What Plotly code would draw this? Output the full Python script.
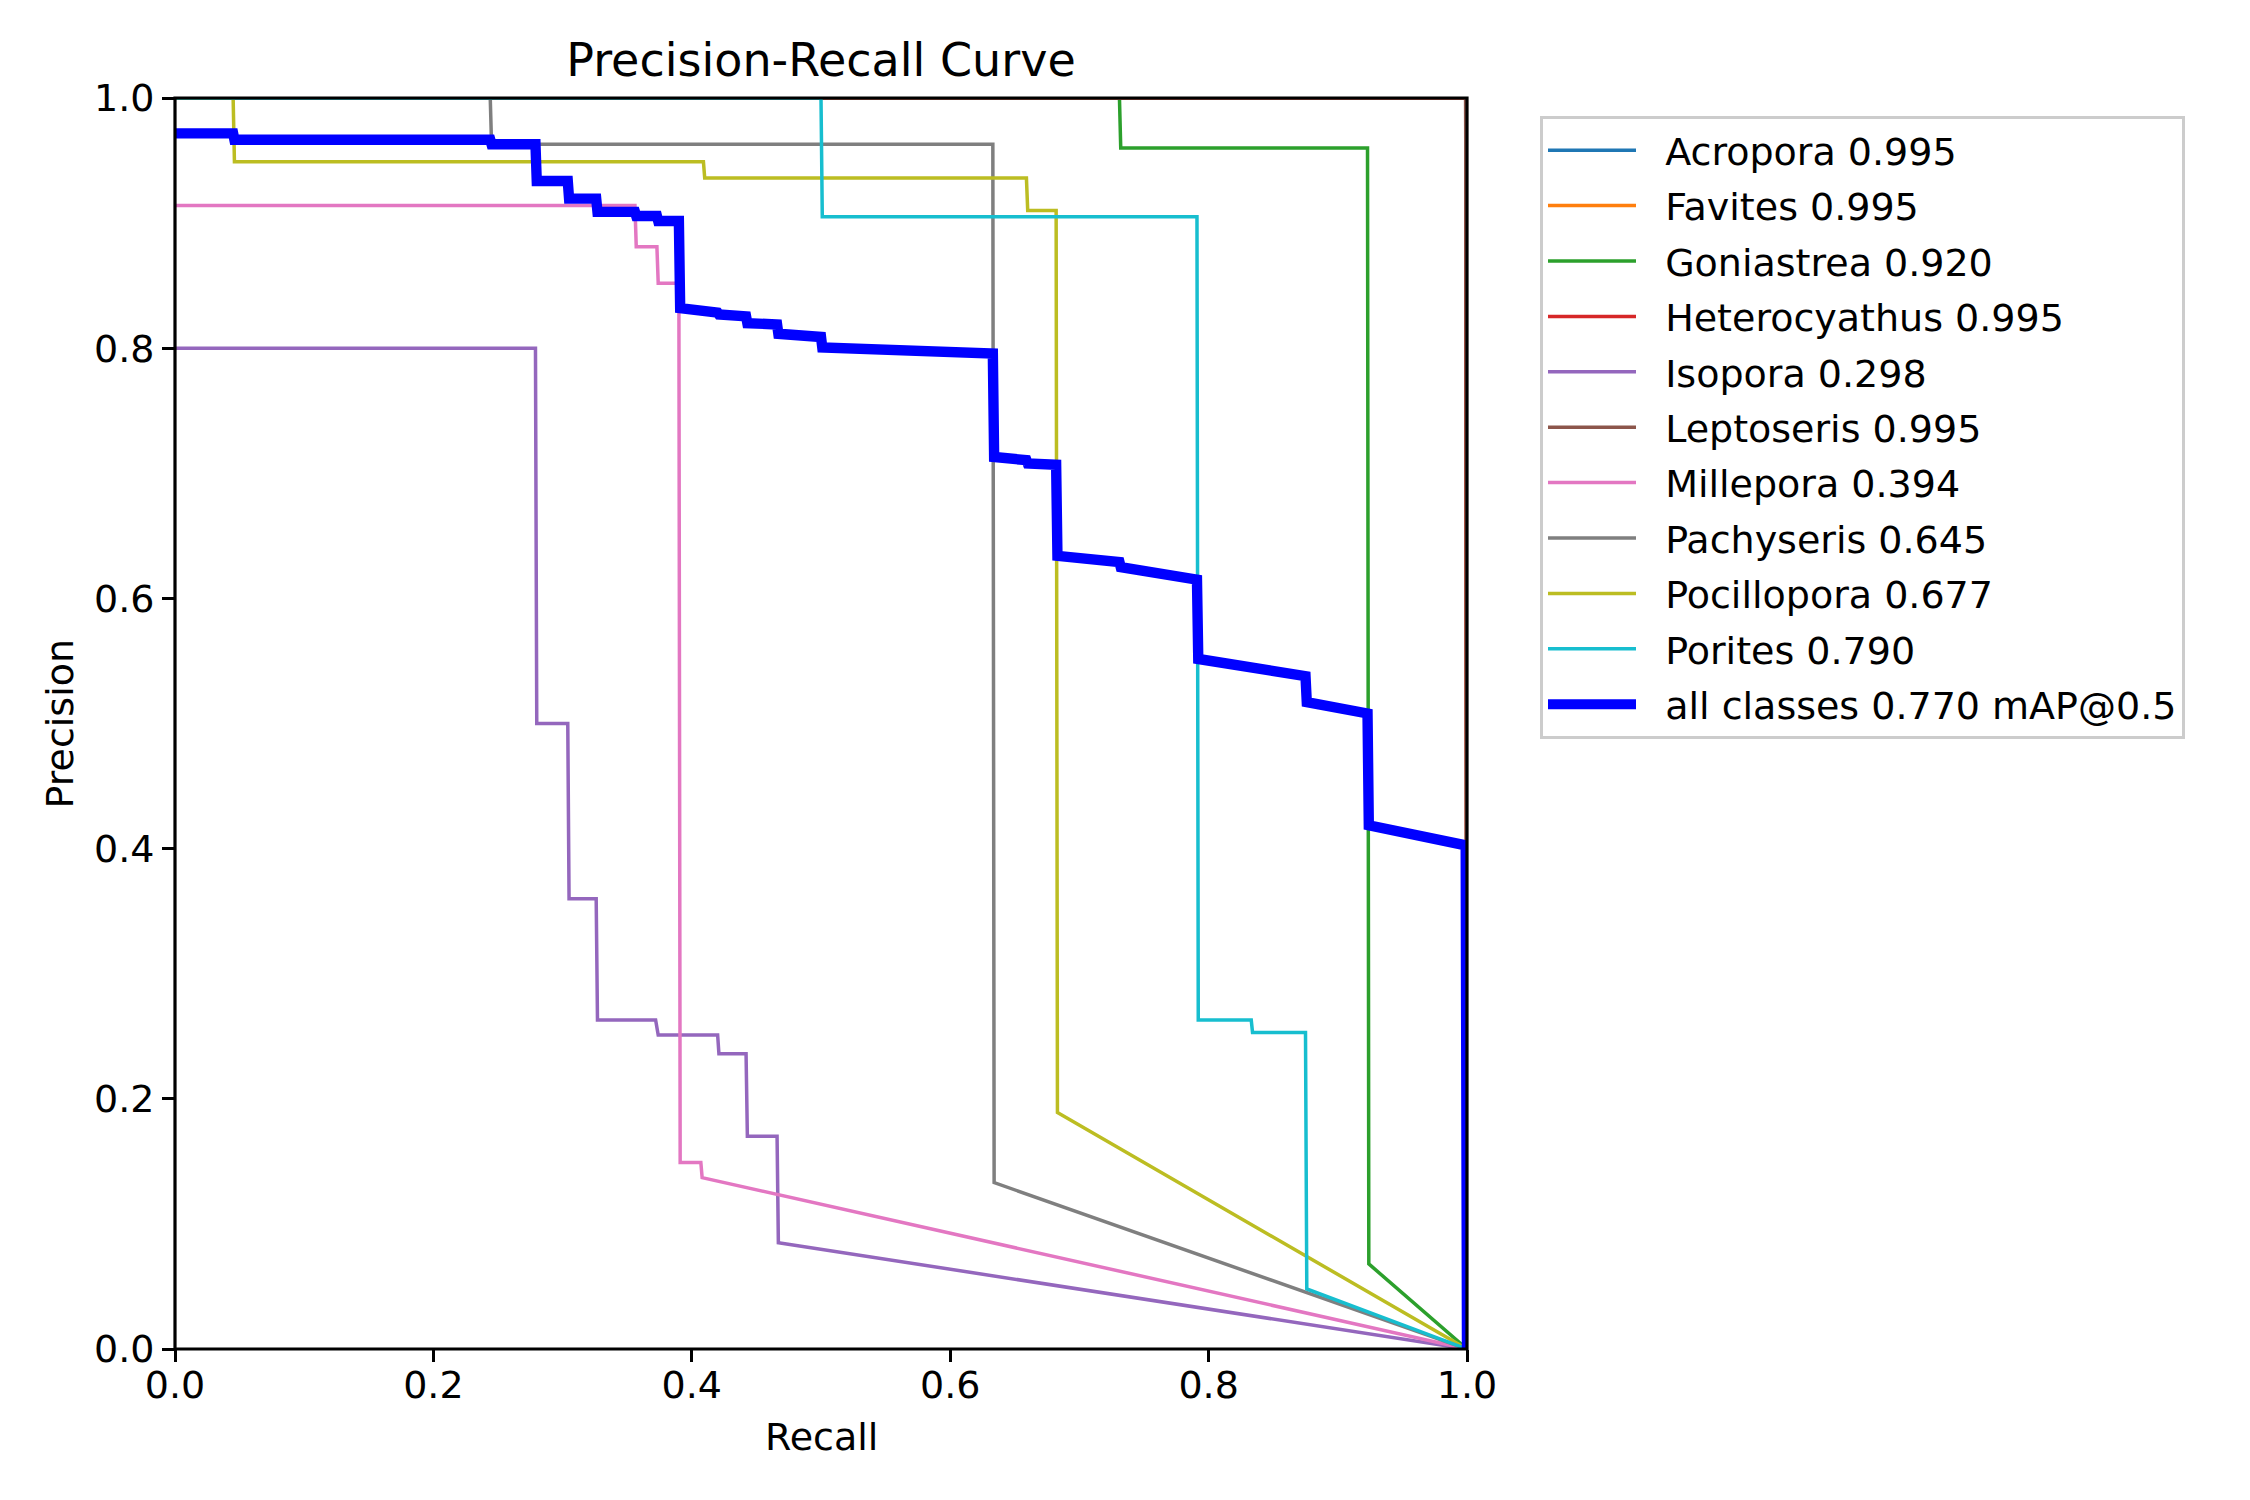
import plotly.graph_objects as go

# ---- data ----
class_names = ["Acropora", "Favites", "Goniastrea", "Heterocyathus", "Isopora",
               "Leptoseris", "Millepora", "Pachyseris", "Pocillopora", "Porites"]
class_ap = [0.995, 0.995, 0.920, 0.995, 0.298, 0.995, 0.394, 0.645, 0.677, 0.790]
class_colors = ["#1f77b4", "#ff7f0e", "#2ca02c", "#d62728", "#9467bd",
                "#8c564b", "#e377c2", "#7f7f7f", "#bcbd22", "#17becf"]

acropora_recall = [0.0, 0.999, 1.0]
acropora_prec = [1.0, 1.0, 0.0]
favites_recall = [0.0, 0.999, 1.0]
favites_prec = [1.0, 1.0, 0.0]
goniastrea_recall = [0.0, 0.731, 0.732, 0.923, 0.924, 1.0]
goniastrea_prec = [1.0, 1.0, 0.960, 0.960, 0.068, 0.0]
heterocyathus_recall = [0.0, 0.999, 1.0]
heterocyathus_prec = [1.0, 1.0, 0.0]
isopora_recall = [0.0, 0.279, 0.280, 0.304, 0.305, 0.326, 0.327, 0.372, 0.374,
                  0.420, 0.421, 0.442, 0.443, 0.466, 0.467, 1.0]
isopora_prec = [0.800, 0.800, 0.500, 0.500, 0.360, 0.360, 0.263, 0.263, 0.251,
                0.251, 0.236, 0.236, 0.170, 0.170, 0.085, 0.0]
leptoseris_recall = [0.0, 0.999, 1.0]
leptoseris_prec = [1.0, 1.0, 0.0]
millepora_recall = [0.0, 0.356, 0.357, 0.373, 0.374, 0.390, 0.391, 0.407, 0.408, 1.0]
millepora_prec = [0.914, 0.914, 0.881, 0.881, 0.852, 0.852, 0.149, 0.149, 0.137, 0.0]
pachyseris_recall = [0.0, 0.244, 0.245, 0.633, 0.634, 1.0]
pachyseris_prec = [1.0, 1.0, 0.963, 0.963, 0.133, 0.0]
pocillopora_recall = [0.0, 0.045, 0.046, 0.409, 0.410, 0.659, 0.660, 0.682, 0.683, 1.0]
pocillopora_prec = [1.0, 1.0, 0.949, 0.949, 0.936, 0.936, 0.910, 0.910, 0.189, 0.0]
porites_recall = [0.0, 0.500, 0.501, 0.791, 0.792, 0.833, 0.834, 0.875, 0.876, 1.0]
porites_prec = [1.0, 1.0, 0.905, 0.905, 0.263, 0.263, 0.253, 0.253, 0.048, 0.0]

all_recall = [0.0, 0.045, 0.046, 0.244, 0.245, 0.279, 0.280, 0.304, 0.305, 0.326, 0.327,
              0.356, 0.357, 0.373, 0.374, 0.390, 0.391, 0.408, 0.409, 0.420, 0.421,
              0.442, 0.443, 0.466, 0.467, 0.500, 0.501, 0.633, 0.634, 0.659, 0.660,
              0.682, 0.683, 0.731, 0.732, 0.791, 0.792, 0.833, 0.834, 0.875, 0.876,
              0.923, 0.924, 0.999, 1.0]
all_prec = [0.9717, 0.9717, 0.9666, 0.9666, 0.9630, 0.9630, 0.9336, 0.9336, 0.9196, 0.9196, 0.9090,
            0.9090, 0.9057, 0.9057, 0.9017, 0.9017, 0.8320, 0.8310, 0.8290, 0.8285, 0.8270,
            0.8255, 0.8200, 0.8190, 0.8115, 0.8090, 0.8005, 0.7958, 0.7130, 0.7105, 0.7078,
            0.7068, 0.6340, 0.6290, 0.6250, 0.6150, 0.5516, 0.5450, 0.5437, 0.5378, 0.5170,
            0.5080, 0.4186, 0.4026, 0.0]
all_map = 0.770

tick_vals = [0.0, 0.2, 0.4, 0.6, 0.8, 1.0]

class_recalls = [acropora_recall, favites_recall, goniastrea_recall, heterocyathus_recall,
                 isopora_recall, leptoseris_recall, millepora_recall, pachyseris_recall,
                 pocillopora_recall, porites_recall]
class_precs = [acropora_prec, favites_prec, goniastrea_prec, heterocyathus_prec,
               isopora_prec, leptoseris_prec, millepora_prec, pachyseris_prec,
               pocillopora_prec, porites_prec]

FONT = "DejaVu Sans"
FS = 38
PAD = "\u00a0\u00a0"

fig = go.Figure()
for i, name in enumerate(class_names):
    fig.add_trace(go.Scatter(
        x=class_recalls[i], y=class_precs[i], mode="lines",
        name=f"{PAD}{name} {class_ap[i]:.3f}", legendgroup=name,
        line=dict(color=class_colors[i], width=3.5),
    ))
fig.add_trace(go.Scatter(
    x=all_recall, y=all_prec, mode="lines",
    name=f"{PAD}all classes {all_map:.3f} mAP@0.5", legendgroup="all",
    line=dict(color="#0000ff", width=10.4),
))

axis_common = dict(
    range=[0, 1], tickvals=tick_vals, tickformat=".1f",
    showgrid=False, zeroline=False, showline=False,
    ticks="outside", ticklen=12, tickwidth=2.8,
    tickcolor="black", tickfont=dict(family=FONT, size=FS, color="black"),
)
fig.update_xaxes(**axis_common, ticklabelstandoff=-10)
fig.update_yaxes(**axis_common, ticklabelstandoff=0)

W, H = 2242, 1492  # page body has an 8px margin
fig.update_layout(
    width=W, height=H,
    margin=dict(l=167, r=783, t=90, b=151),
    paper_bgcolor="white", plot_bgcolor="white",
    font=dict(family=FONT, size=FS, color="black"),
    title=dict(text="Precision-Recall Curve", x=0.5, xref="paper", y=1 - 52 / H,
               yanchor="middle", xanchor="center",
               font=dict(family=FONT, size=46, color="black")),
    legend=dict(
        x=(1540 - 175) / 1292, y=(1349 - 116) / 1251, xanchor="left", yanchor="top",
        bgcolor="rgba(255,255,255,0.8)", bordercolor="#cccccc", borderwidth=3,
        font=dict(family=FONT, size=FS, color="black"),
        tracegroupgap=3, itemwidth=88,
    ),
    shapes=[dict(type="rect", xref="paper", yref="paper", x0=0, x1=1, y0=0, y1=1,
                 line=dict(color="black", width=3.2), layer="above")],
    annotations=[
        dict(text="Recall", x=0.5, y=(1349 - 1437) / 1251, xref="paper", yref="paper",
             showarrow=False, xanchor="center", yanchor="middle",
             font=dict(family=FONT, size=FS, color="black")),
        dict(text="Precision", x=(59 - 175) / 1292, y=0.5, xref="paper", yref="paper",
             showarrow=False, xanchor="center", yanchor="middle", textangle=-90,
             font=dict(family=FONT, size=FS, color="black")),
    ],
)

fig.write_html("out.html")
